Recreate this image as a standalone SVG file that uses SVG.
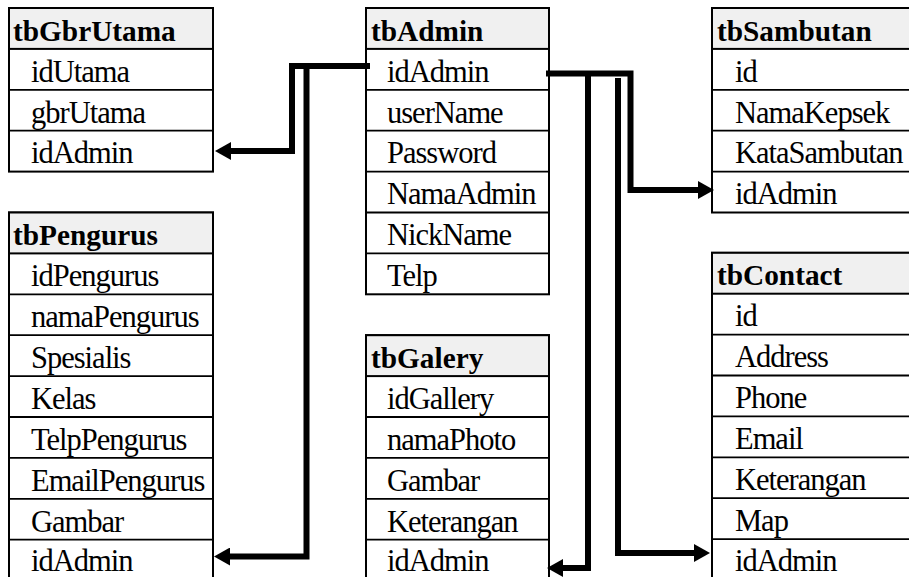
<svg xmlns="http://www.w3.org/2000/svg" width="909" height="577" viewBox="0 0 909 577">
<style>
.box{fill:#ffffff;stroke:#000;stroke-width:2}
.hd{fill:#f0f0f0;stroke:#000;stroke-width:2}
.rl{stroke:#000;stroke-width:1.8}
.h{font-family:"Liberation Serif","Times New Roman",serif;font-weight:bold;font-size:29.3px;fill:#000}
.f{font-family:"Liberation Serif","Times New Roman",serif;font-size:30.5px;letter-spacing:-1px;fill:#000}
.c{fill:none;stroke:#000;stroke-width:6;stroke-linejoin:miter;marker-end:url(#ah)}
</style>
<defs>
<marker id="ah" markerUnits="userSpaceOnUse" markerWidth="17" markerHeight="18" refX="0" refY="9" orient="auto">
<path d="M0,0 L16,9 L0,18 z" fill="#000"/>
</marker>
</defs>
<rect width="909" height="577" fill="#fff"/>

<g id="tbGbrUtama">
<rect class="box" x="9" y="8" width="204" height="163.6"/>
<rect class="hd" x="9" y="8" width="204" height="40.9"/>
<line class="rl" x1="9" y1="89.8" x2="213" y2="89.8"/>
<line class="rl" x1="9" y1="130.7" x2="213" y2="130.7"/>
<text class="h" x="13" y="40.5">tbGbrUtama</text>
<text class="f" x="31" y="81.6">idUtama</text>
<text class="f" x="31" y="122.5">gbrUtama</text>
<text class="f" x="31" y="163.4">idAdmin</text>
</g>

<g id="tbAdmin">
<rect class="box" x="366" y="8" width="183" height="286.3"/>
<rect class="hd" x="366" y="8" width="183" height="40.9"/>
<line class="rl" x1="366" y1="89.8" x2="549" y2="89.8"/>
<line class="rl" x1="366" y1="130.7" x2="549" y2="130.7"/>
<line class="rl" x1="366" y1="171.6" x2="549" y2="171.6"/>
<line class="rl" x1="366" y1="212.5" x2="549" y2="212.5"/>
<line class="rl" x1="366" y1="253.4" x2="549" y2="253.4"/>
<text class="h" x="371" y="40.5">tbAdmin</text>
<text class="f" x="387" y="81.6">idAdmin</text>
<text class="f" x="387" y="122.5">userName</text>
<text class="f" x="387" y="163.4">Password</text>
<text class="f" x="387" y="204.3">NamaAdmin</text>
<text class="f" x="387" y="245.2">NickName</text>
<text class="f" x="387" y="286.1">Telp</text>
</g>

<g id="tbSambutan">
<rect class="box" x="712" y="8" width="240" height="204.5"/>
<rect class="hd" x="712" y="8" width="240" height="40.9"/>
<line class="rl" x1="712" y1="89.8" x2="952" y2="89.8"/>
<line class="rl" x1="712" y1="130.7" x2="952" y2="130.7"/>
<line class="rl" x1="712" y1="171.6" x2="952" y2="171.6"/>
<text class="h" x="717" y="40.5">tbSambutan</text>
<text class="f" x="735" y="81.6">id</text>
<text class="f" x="735" y="122.5">NamaKepsek</text>
<text class="f" x="735" y="163.4">KataSambutan</text>
<text class="f" x="735" y="204.3">idAdmin</text>
</g>

<g id="tbPengurus">
<rect class="box" x="9" y="212.5" width="204" height="368"/>
<rect class="hd" x="9" y="212.5" width="204" height="40.9"/>
<line class="rl" x1="9" y1="294.3" x2="213" y2="294.3"/>
<line class="rl" x1="9" y1="335.2" x2="213" y2="335.2"/>
<line class="rl" x1="9" y1="376.1" x2="213" y2="376.1"/>
<line class="rl" x1="9" y1="417" x2="213" y2="417"/>
<line class="rl" x1="9" y1="457.9" x2="213" y2="457.9"/>
<line class="rl" x1="9" y1="498.8" x2="213" y2="498.8"/>
<line class="rl" x1="9" y1="539.7" x2="213" y2="539.7"/>
<text class="h" x="13" y="245">tbPengurus</text>
<text class="f" x="31" y="286.1">idPengurus</text>
<text class="f" x="31" y="327">namaPengurus</text>
<text class="f" x="31" y="367.9">Spesialis</text>
<text class="f" x="31" y="408.8">Kelas</text>
<text class="f" x="31" y="449.7">TelpPengurus</text>
<text class="f" x="31" y="490.6">EmailPengurus</text>
<text class="f" x="31" y="531.5">Gambar</text>
<text class="f" x="31" y="570.5">idAdmin</text>
</g>

<g id="tbGalery">
<rect class="box" x="366" y="335.2" width="183" height="245.4"/>
<rect class="hd" x="366" y="335.2" width="183" height="40.9"/>
<line class="rl" x1="366" y1="417" x2="549" y2="417"/>
<line class="rl" x1="366" y1="457.9" x2="549" y2="457.9"/>
<line class="rl" x1="366" y1="498.8" x2="549" y2="498.8"/>
<line class="rl" x1="366" y1="539.7" x2="549" y2="539.7"/>
<text class="h" x="371" y="367.7">tbGalery</text>
<text class="f" x="387" y="408.8">idGallery</text>
<text class="f" x="387" y="449.7">namaPhoto</text>
<text class="f" x="387" y="490.6">Gambar</text>
<text class="f" x="387" y="531.5">Keterangan</text>
<text class="f" x="387" y="570.5">idAdmin</text>
</g>

<g id="tbContact">
<rect class="box" x="712" y="252.8" width="240" height="327.2"/>
<rect class="hd" x="712" y="252.8" width="240" height="40.9"/>
<line class="rl" x1="712" y1="334.6" x2="952" y2="334.6"/>
<line class="rl" x1="712" y1="375.5" x2="952" y2="375.5"/>
<line class="rl" x1="712" y1="416.4" x2="952" y2="416.4"/>
<line class="rl" x1="712" y1="457.3" x2="952" y2="457.3"/>
<line class="rl" x1="712" y1="498.2" x2="952" y2="498.2"/>
<line class="rl" x1="712" y1="539.1" x2="952" y2="539.1"/>
<text class="h" x="717" y="285.3">tbContact</text>
<text class="f" x="735" y="326.4">id</text>
<text class="f" x="735" y="367.3">Address</text>
<text class="f" x="735" y="408.2">Phone</text>
<text class="f" x="735" y="449.1">Email</text>
<text class="f" x="735" y="490">Keterangan</text>
<text class="f" x="735" y="530.9">Map</text>
<text class="f" x="735" y="570.5">idAdmin</text>
</g>

<g id="connectors">
<path class="c" d="M370,66 H292 V151 H231"/>
<path class="c" d="M306.5,66 V556.5 H230"/>
<path class="c" d="M546,73.5 H630.5 V190 H698"/>
<path class="c" d="M588,73.5 V568 H563"/>
<path class="c" d="M618,78 V553 H694"/>
</g>
</svg>
